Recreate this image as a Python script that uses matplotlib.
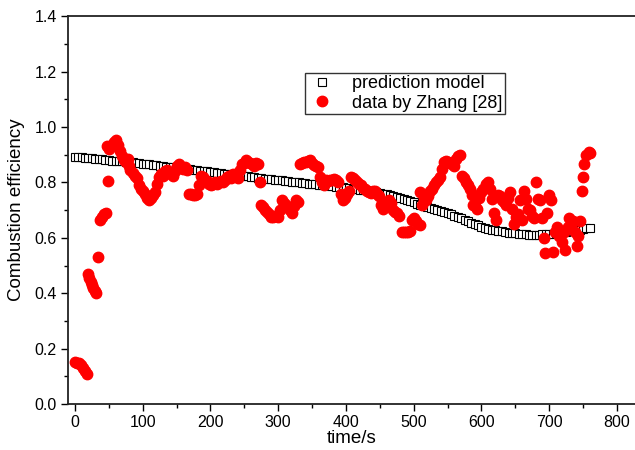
import matplotlib
matplotlib.use("Agg")
import matplotlib.pyplot as plt
from matplotlib.ticker import MultipleLocator

plt.rcParams['font.family'] = ['Liberation Sans', 'DejaVu Sans']

# Prediction model: time (s) step 5 from 0 to 760
model_t = list(range(0, 765, 5))
model_eff = [
    0.893, 0.892, 0.891, 0.889, 0.888, 0.887, 0.886, 0.885, 0.883, 0.882, 0.880,
    0.879, 0.878, 0.877, 0.876, 0.874, 0.873, 0.872, 0.871, 0.869, 0.868,
    0.866, 0.865, 0.863, 0.862, 0.860, 0.859, 0.857, 0.856, 0.854, 0.852,
    0.851, 0.850, 0.848, 0.847, 0.846, 0.844, 0.843, 0.842, 0.840, 0.838,
    0.837, 0.835, 0.834, 0.832, 0.831, 0.829, 0.828, 0.826, 0.825, 0.823,
    0.822, 0.820, 0.819, 0.817, 0.816, 0.814, 0.813, 0.812, 0.810, 0.809,
    0.808, 0.806, 0.805, 0.803, 0.802, 0.801, 0.799, 0.798, 0.796, 0.795,
    0.794, 0.792, 0.791, 0.789, 0.788, 0.786, 0.785, 0.783, 0.782, 0.780,
    0.779, 0.777, 0.776, 0.774, 0.772, 0.771, 0.769, 0.767, 0.765, 0.762,
    0.760, 0.757, 0.754, 0.751, 0.748, 0.744, 0.740, 0.736, 0.732, 0.728,
    0.724, 0.720, 0.716, 0.712, 0.708, 0.704, 0.700, 0.697, 0.694, 0.690,
    0.685, 0.680, 0.675, 0.670, 0.665, 0.660, 0.655, 0.650, 0.645, 0.640,
    0.636, 0.633, 0.630, 0.627, 0.625, 0.623, 0.621, 0.619, 0.617, 0.616,
    0.615, 0.614, 0.613, 0.612, 0.612, 0.612, 0.612, 0.613, 0.613, 0.614,
    0.615, 0.617, 0.618, 0.620, 0.622, 0.624, 0.626, 0.628, 0.630, 0.632,
    0.634, 0.636,
]

# Experimental data by Zhang [28]
data_t = [
    0, 3, 6, 9, 12, 15, 18, 19, 21, 23, 25, 27, 29, 31, 34, 37, 40, 43, 46, 49,
    48, 51, 54, 57, 60, 63, 66, 69, 72, 75, 78, 80, 82, 85, 88, 91, 94, 97, 100, 103,
    106, 109, 112, 115, 118, 121, 124, 127, 130, 133, 136, 139, 142, 145, 148, 151, 154, 157, 160, 163,
    166, 168, 171, 174, 177, 180, 183, 186, 189, 192, 195, 198, 201, 204, 207, 210, 213, 216, 219, 222,
    225, 228, 231, 234, 237, 240, 243, 246, 249, 252, 255, 258, 261, 264, 267, 270, 273, 275, 278, 281,
    284, 287, 290, 293, 296, 299, 302, 305, 308, 311, 314, 317, 320, 323, 326, 329, 332, 335, 338, 341,
    344, 347, 350, 353, 356, 359, 362, 365, 368, 371, 374, 377, 380, 383, 386, 389, 392, 395, 398, 401,
    404, 407, 410, 413, 416, 419, 422, 425, 428, 431, 434, 437, 440, 443, 446, 449, 452, 455, 458, 461,
    464, 467, 470, 473, 476, 479, 482, 485, 488, 491, 494, 497, 500, 503, 506, 509, 509, 512, 515, 518,
    521, 524, 527, 530, 533, 536, 539, 542, 544, 547, 550, 553, 556, 559, 562, 565, 568, 571, 574, 577,
    580, 583, 586, 588, 591, 594, 597, 600, 603, 606, 609, 612, 615, 618, 621, 624, 627, 630, 633, 636,
    639, 642, 645, 648, 651, 654, 657, 660, 663, 666, 669, 672, 675, 678, 681, 684, 687, 690, 692, 694,
    697, 700, 703, 706, 708, 711, 714, 717, 719, 722, 724, 727, 729, 732, 735, 738, 741, 743, 746, 748,
    750, 752, 755, 758, 760,
]
data_eff = [
    0.152, 0.150, 0.147, 0.140, 0.132, 0.120, 0.110, 0.470, 0.455, 0.440, 0.430, 0.420, 0.410, 0.400, 0.530, 0.665, 0.675, 0.685, 0.690, 0.805,
    0.930, 0.920, 0.935, 0.945, 0.952, 0.935, 0.915, 0.895, 0.880, 0.875, 0.885, 0.860, 0.845, 0.835, 0.825, 0.815, 0.790, 0.775, 0.770, 0.760,
    0.745, 0.738, 0.745, 0.755, 0.765, 0.795, 0.820, 0.830, 0.825, 0.840, 0.845, 0.835, 0.830, 0.825, 0.840, 0.860, 0.865, 0.855, 0.850, 0.855,
    0.845, 0.760, 0.757, 0.755, 0.755, 0.760, 0.790, 0.825, 0.820, 0.810, 0.805, 0.795, 0.790, 0.795, 0.800, 0.795, 0.800, 0.805, 0.800, 0.810,
    0.820, 0.825, 0.815, 0.830, 0.830, 0.815, 0.845, 0.865, 0.870, 0.880, 0.875, 0.870, 0.865, 0.860, 0.870, 0.868, 0.800, 0.720, 0.710, 0.700,
    0.695, 0.685, 0.676, 0.675, 0.680, 0.676, 0.700, 0.735, 0.725, 0.718, 0.710, 0.700, 0.690, 0.715, 0.736, 0.730, 0.865, 0.870, 0.872, 0.875,
    0.878, 0.880, 0.870, 0.862, 0.858, 0.855, 0.820, 0.800, 0.790, 0.810, 0.805, 0.810, 0.808, 0.812, 0.810, 0.800, 0.760, 0.736, 0.745, 0.760,
    0.770, 0.820, 0.815, 0.810, 0.800, 0.795, 0.790, 0.780, 0.775, 0.770, 0.765, 0.762, 0.770, 0.768, 0.760, 0.750, 0.720, 0.705, 0.725, 0.730,
    0.735, 0.725, 0.700, 0.695, 0.690, 0.680, 0.622, 0.620, 0.622, 0.620, 0.625, 0.665, 0.670, 0.660, 0.650, 0.645, 0.766, 0.718, 0.740, 0.735,
    0.750, 0.770, 0.775, 0.790, 0.800, 0.810, 0.820, 0.850, 0.875, 0.878, 0.875, 0.870, 0.868, 0.860, 0.885, 0.895, 0.900, 0.825, 0.815, 0.800,
    0.790, 0.775, 0.755, 0.720, 0.715, 0.705, 0.745, 0.765, 0.775, 0.795, 0.800, 0.775, 0.740, 0.690, 0.665, 0.755, 0.750, 0.735, 0.730, 0.720,
    0.745, 0.765, 0.705, 0.650, 0.675, 0.685, 0.735, 0.665, 0.770, 0.740, 0.705, 0.700, 0.680, 0.670, 0.800, 0.740, 0.735, 0.670, 0.600, 0.545,
    0.690, 0.755, 0.735, 0.550, 0.620, 0.640, 0.605, 0.615, 0.585, 0.620, 0.555, 0.640, 0.670, 0.645, 0.660, 0.620, 0.570, 0.605, 0.660, 0.770,
    0.820, 0.868, 0.900, 0.910, 0.905,
]

x_ticks = [0, 100, 200, 300, 400, 500, 600, 700, 800]
y_ticks = [0.0, 0.2, 0.4, 0.6, 0.8, 1.0, 1.2, 1.4]

fig = plt.figure(figsize=(6.35, 4.5), dpi=100)
ax = fig.add_axes([0.107, 0.102, 0.893, 0.862])

ax.plot(model_t, model_eff, linestyle='none', marker='s', markersize=5.2,
        markerfacecolor='white', markeredgecolor='black', markeredgewidth=0.8,
        label='prediction model', zorder=2)
ax.plot(data_t, data_eff, linestyle='none', marker='o', markersize=7.5,
        markerfacecolor='#ff0000', markeredgecolor='#ff0000',
        label='data by Zhang [28]', zorder=3)

ax.set_xlim(-10.3, 826.6)
ax.set_ylim(0.0, 1.4)
ax.set_xticks(x_ticks)
ax.set_yticks(y_ticks)
ax.set_yticklabels([f"{v:.1f}" for v in y_ticks])
ax.xaxis.set_minor_locator(MultipleLocator(50))
ax.yaxis.set_minor_locator(MultipleLocator(0.1))
ax.tick_params(which='major', direction='out', length=5, width=1.0, labelsize=11.5,
               colors='black', pad=3)
ax.tick_params(which='minor', direction='out', length=3, width=1.0)
ax.tick_params(top=False, right=False, which='both')

for s in ['left', 'bottom', 'top']:
    ax.spines[s].set_linewidth(1.3)
    ax.spines[s].set_color('#222222')
ax.spines['right'].set_visible(False)

ax.set_xlabel('time/s', fontsize=13.5, labelpad=0)
ax.set_ylabel('Combustion efficiency', fontsize=13.5, labelpad=7)

leg = ax.legend(loc='upper left', bbox_to_anchor=(0.418, 0.853), fontsize=13,
                frameon=True, fancybox=False, edgecolor='black', borderpad=0.12,
                handletextpad=0.9, labelspacing=0.12, borderaxespad=0, handlelength=1.6)
leg.get_frame().set_linewidth(1.0)

fig.savefig('out.png', dpi=100)
